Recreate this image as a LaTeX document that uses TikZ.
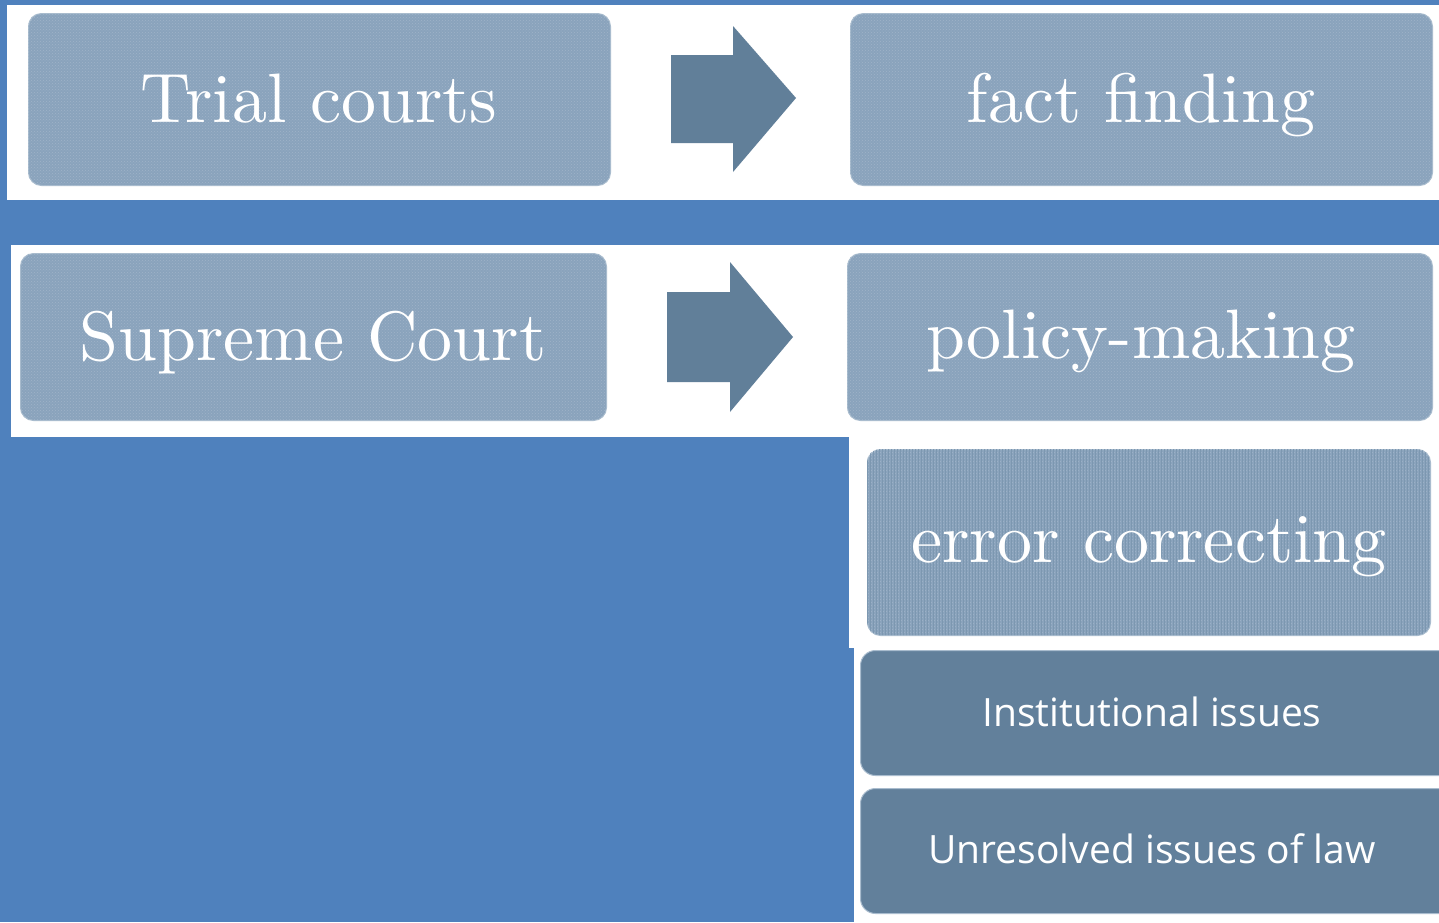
\documentclass[tikz,border=0pt]{standalone}
\usepackage{fontspec}
\usetikzlibrary{patterns}
\newfontfamily\sanstxt{Open Sans}
\newfontfamily\lmten{lmroman10-regular.otf}
\definecolor{bgblue}{HTML}{4F81BD}
\definecolor{lightbox}{HTML}{8AA3BC}
\definecolor{lightedge}{HTML}{A9BCCE}
\definecolor{dotcol}{HTML}{9FB4C9}
\definecolor{darkbox}{HTML}{62809B}
\definecolor{arrowcol}{HTML}{617F99}
\tikzset{
  panel/.style={fill=white, draw=none},
  serifbox/.style={fill=lightbox, draw=lightedge, line width=1pt, rounded corners=13pt,
    anchor=north west, inner sep=0pt},
  dotfill/.style={pattern=crosshatch dots, pattern color=dotcol, rounded corners=13pt},
  sansbox/.style={fill=darkbox, draw=lightedge, line width=1pt, rounded corners=15pt,
    anchor=north west, inner sep=0pt},
  seriftxt/.style={text=white, font=\lmten\fontsize{70}{72}\selectfont, anchor=base, inner sep=0pt},
  sanslabel/.style={text=white, font=\sanstxt\fontsize{39}{44}\selectfont, anchor=base, inner sep=0pt},
  bigarrow/.style={fill=arrowcol, draw=none}
}
\begin{document}
\begin{tikzpicture}[x=1pt,y=-1pt]
\useasboundingbox (0,0) rectangle (1439,922);
\fill[bgblue] (0,0) rectangle (1439,922);
% white panels
\fill[panel] (7,5) rectangle (1439,200);
\fill[panel] (11,245) rectangle (1439,437);
\fill[panel] (849,437) rectangle (1439,648);
\fill[panel] (854,648) rectangle (1439,922);
% boxes
\node[serifbox, minimum width=582pt, minimum height=172pt] (trial) at (28,13) {};
\path[dotfill] (28,13) rectangle (610,185);
\node[seriftxt] (trialtxt) at (319,122) {Trial courts};
\node[serifbox, minimum width=582pt, minimum height=172pt] (fact) at (850,13) {};
\path[dotfill] (850,13) rectangle (1432,185);
\node[seriftxt] (facttxt) at (1141,122) {fact finding};
\node[serifbox, minimum width=586pt, minimum height=167pt] (supreme) at (20,253) {};
\path[dotfill] (20,253) rectangle (606,420);
\node[seriftxt] (supremetxt) at (313,360) {Supreme Court};
\node[serifbox, minimum width=585pt, minimum height=167pt] (policy) at (847,253) {};
\path[dotfill] (847,253) rectangle (1432,420);
\node[seriftxt] (policytxt) at (1141,358) {policy-making};
\node[serifbox, minimum width=563pt, minimum height=186pt] (error) at (867,449) {};
\path[dotfill] (867,449) rectangle (1430,635);
\path[pattern=vertical lines, pattern color=darkbox!35!lightbox, rounded corners=13pt] (867,449) rectangle (1430,635);
\node[seriftxt] (errortxt) at (1149,562) {error correcting};
\node[sansbox, minimum width=600pt, minimum height=125pt] (inst) at (860,650) {};
\node[sanslabel] (insttxt) at (1152,726) {Institutional issues};
\node[sansbox, minimum width=600pt, minimum height=125pt] (unres) at (860,788) {};
\node[sanslabel] (unrestxt) at (1152,863) {Unresolved issues of law};
% arrows
\fill[bigarrow] (671,55) -- (733,55) -- (733,26) -- (796,98) -- (733,172) -- (733,143) -- (671,143) -- cycle;
\fill[bigarrow] (667,292) -- (730,292) -- (730,262) -- (793,337) -- (730,412) -- (730,382) -- (667,382) -- cycle;
\end{tikzpicture}
\end{document}
